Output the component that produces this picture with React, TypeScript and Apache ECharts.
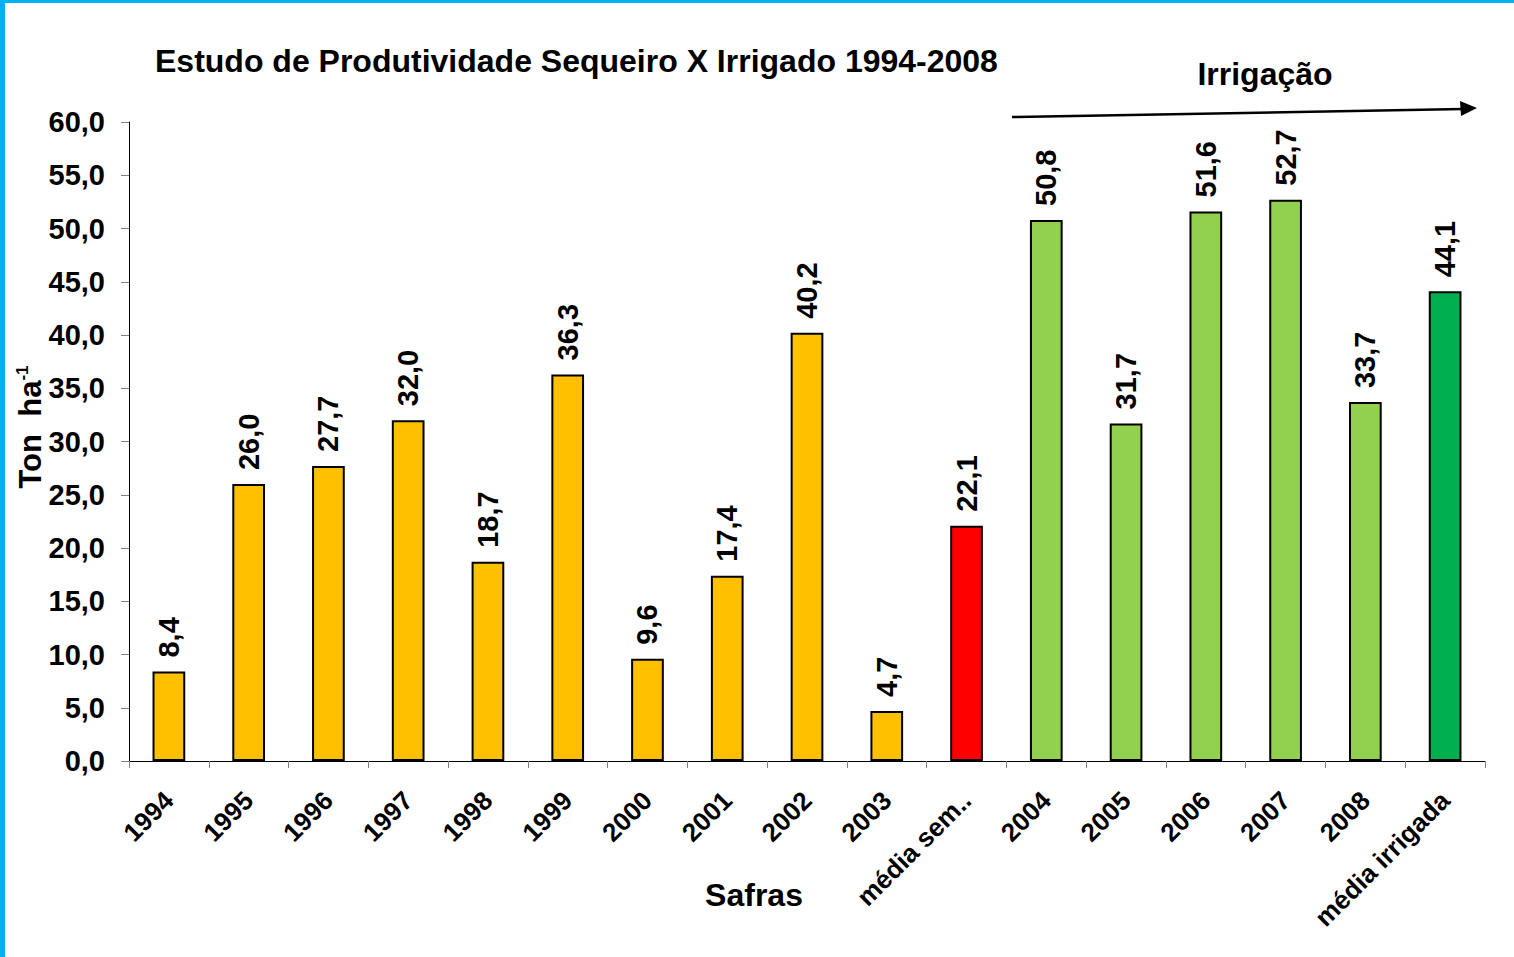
import React, { useEffect, useRef } from "react";
import * as echarts from "echarts";

const categories = ["1994", "1995", "1996", "1997", "1998", "1999", "2000", "2001", "2002", "2003", "média sem..", "2004", "2005", "2006", "2007", "2008", "média irrigada"];
const values = [8.4, 26.0, 27.7, 32.0, 18.7, 36.3, 9.6, 17.4, 40.2, 4.7, 22.1, 50.8, 31.7, 51.6, 52.7, 33.7, 44.1];
const barColors = ["#FFC000", "#FFC000", "#FFC000", "#FFC000", "#FFC000", "#FFC000", "#FFC000", "#FFC000", "#FFC000", "#FFC000", "#FF0000", "#92D050", "#92D050", "#92D050", "#92D050", "#92D050", "#00B050"];
const yTicks = { min: 0, max: 60, interval: 5 };

const FONT = "Liberation Sans, Arial, sans-serif";

export default function App() {
  const ref = useRef<HTMLDivElement>(null);
  useEffect(() => {
    const chart = echarts.init(ref.current!, null, { renderer: "svg" });
    chart.setOption({
      animation: false,
      backgroundColor: "#FFFFFF",
      textStyle: { fontFamily: FONT },
      title: {
        text: "Estudo de Produtividade Sequeiro X Irrigado 1994-2008",
        left: 150,
        top: 40,
        textStyle: { fontFamily: FONT, fontSize: 32, fontWeight: "bold", color: "#000" },
      },
      grid: { left: 129, right: 29, top: 122, bottom: 196, containLabel: false },
      xAxis: {
        type: "category",
        data: categories,
        axisLine: { lineStyle: { color: "#000", width: 1 } },
        axisTick: { show: true, length: 7, lineStyle: { color: "#808080" } },
        axisLabel: { rotate: 45, margin: 35, fontFamily: FONT, fontSize: 26, fontWeight: "bold", color: "#000", interval: 0 },
      },
      yAxis: {
        type: "value",
        min: yTicks.min,
        max: yTicks.max,
        interval: yTicks.interval,
        splitLine: { show: false },
        axisLine: { show: true, lineStyle: { color: "#000", width: 1 } },
        axisTick: { show: true, length: 8, lineStyle: { color: "#808080" } },
        axisLabel: {
          margin: 24,
          fontFamily: FONT,
          fontSize: 29,
          fontWeight: "bold",
          color: "#000",
          formatter: (v: number) => v.toFixed(1).replace(".", ","),
        },
      },
      series: [
        {
          type: "bar",
          data: values.map((v, i) => ({ value: v, itemStyle: { color: barColors[i] } })),
          barWidth: "41%",
          itemStyle: { borderColor: "#000", borderWidth: 2 },
          label: {
            show: true,
            position: "top",
            rotate: 90,
            align: "left",
            verticalAlign: "middle",
            distance: 14,
            fontFamily: FONT,
            fontSize: 29,
            fontWeight: "bold",
            color: "#000",
            formatter: (p: any) => p.value.toFixed(1).replace(".", ","),
          },
        },
      ],
      graphic: [
        { type: "rect", shape: { x: 0, y: 0, width: 5, height: 957 }, style: { fill: "#00B0F0" } },
        { type: "rect", shape: { x: 0, y: 0, width: 1514, height: 3 }, style: { fill: "#00B0F0" } },
        {
          type: "text",
          x: 1265,
          y: 74,
          style: { text: "Irrigação", fontFamily: FONT, fontSize: 32, fontWeight: "bold", fill: "#000", align: "center", verticalAlign: "middle" },
        },
        {
          type: "text",
          x: 754,
          y: 895,
          style: { text: "Safras", fontFamily: FONT, fontSize: 32, fontWeight: "bold", fill: "#000", align: "center", verticalAlign: "middle" },
        },
        {
          type: "text",
          x: 30,
          y: 427,
          rotation: Math.PI / 2,
          style: {
            text: "{a|Ton  ha}{b|-1}",
            align: "center",
            verticalAlign: "middle",
            rich: {
              a: { fontFamily: FONT, fontSize: 31, fontWeight: "bold", fill: "#000", color: "#000" },
              b: { fontFamily: FONT, fontSize: 17, fontWeight: "bold", fill: "#000", color: "#000", padding: [0, 0, 16, 0] },
            },
          },
        },
        { type: "line", shape: { x1: 1012, y1: 117, x2: 1463, y2: 109 }, style: { stroke: "#000", lineWidth: 2.5 } },
        { type: "polygon", shape: { points: [[1477, 108], [1460, 101], [1461, 116]] }, style: { fill: "#000" } },
      ],
    });
    return () => chart.dispose();
  }, []);
  return <div ref={ref} style={{ position: "fixed", left: 0, top: 0, width: 1514, height: 957 }} />;
}
